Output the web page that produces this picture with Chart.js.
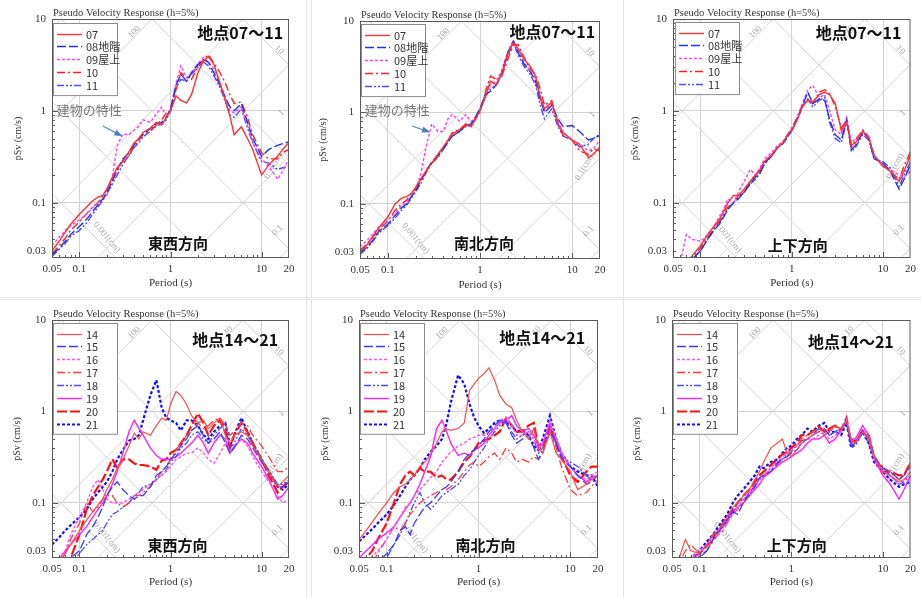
<!DOCTYPE html>
<html><head><meta charset="utf-8">
<script src="https://cdn.jsdelivr.net/npm/chart.js@4.4.1/dist/chart.umd.min.js"></script>
<style>
body{margin:0;background:#fff;width:921px;height:597px;position:relative;overflow:hidden}
canvas{position:absolute}
.bd{position:absolute;background:#e3e3e3;z-index:2}
</style></head><body>
<canvas id="c1" width="305" height="296" style="left:0px;top:0px"></canvas>
<canvas id="c2" width="299" height="296" style="left:312px;top:0px"></canvas>
<canvas id="c3" width="297" height="296" style="left:624px;top:0px"></canvas>
<canvas id="c4" width="305" height="297" style="left:0px;top:300px"></canvas>
<canvas id="c5" width="299" height="297" style="left:312px;top:300px"></canvas>
<canvas id="c6" width="297" height="297" style="left:624px;top:300px"></canvas>
<div class="bd" style="left:306px;top:0;width:1px;height:297px"></div>
<div class="bd" style="left:311px;top:0;width:1px;height:297px"></div>
<div class="bd" style="left:623px;top:0;width:1px;height:297px"></div>
<div class="bd" style="left:0;top:297px;width:921px;height:1px"></div>
<div class="bd" style="left:0;top:299px;width:921px;height:1px"></div>
<div class="bd" style="left:306px;top:299px;width:1px;height:298px"></div>
<div class="bd" style="left:311px;top:299px;width:1px;height:298px"></div>
<div class="bd" style="left:623px;top:299px;width:1px;height:298px"></div>
<script>
// ---- data ----
const periods = [0.05,0.06,0.07,0.08,0.1, 0.12,0.14,0.16,0.18,0.2, 0.23,0.26,0.3,0.35,0.4, 0.45,0.5,0.6,0.7,0.8, 0.9,1.0,1.15,1.3,1.5, 1.7,2.0,2.3,2.6,3.0, 3.5,4.0,4.5,5.0,6.0, 7.0,8.0,10,12,15, 17,20];
const xTickValues = [0.05,0.1,1,10,20];
const xTickLabels = ['0.05','0.1','1','10','20'];
const yTickValues = [0.03,0.1,1,10];
const yTickLabels = ['0.03','0.1','1','10'];
const labelsTop = ['07','08地階','09屋上','10','11'];
const labelsBottom = ['14','15','16','17','18','19','20','21'];

// Panel 1: 東西方向 地点07～11
const P1_07 = [0.03,0.038,0.048,0.058,0.075, 0.09,0.105,0.115,0.12,0.14, 0.19,0.24,0.28,0.36,0.45, 0.5,0.58,0.65,0.75,0.7, 0.85,1.0,1.45,1.3,1.22, 1.5,2.6,3.5,3.9,3.2, 2.0,1.3,0.87,0.55,0.67, 0.5,0.38,0.2,0.26,0.32, 0.38,0.45];
const P1_08 = [0.027,0.032,0.038,0.045,0.055, 0.066,0.08,0.095,0.11,0.13, 0.17,0.23,0.3,0.35,0.43, 0.5,0.56,0.64,0.72,0.75, 0.85,1.05,1.9,2.5,2.1, 2.6,3.2,3.6,3.4,2.6, 1.9,1.4,1.1,1.0,1.2, 0.75,0.5,0.32,0.38,0.42, 0.44,0.46];
const P1_09 = [0.034,0.042,0.05,0.056,0.065, 0.075,0.088,0.1,0.11,0.12, 0.19,0.42,0.56,0.55,0.62, 0.68,0.8,0.75,0.92,1.1, 0.85,1.05,2.0,3.1,2.3, 2.5,3.3,3.8,3.4,2.9, 2.0,1.4,1.0,0.95,1.1, 0.7,0.45,0.3,0.25,0.18, 0.22,0.3];
const P1_10 = [0.028,0.034,0.041,0.05,0.062, 0.076,0.09,0.1,0.12,0.14, 0.18,0.22,0.29,0.32,0.42, 0.48,0.55,0.6,0.7,0.8, 0.95,1.0,1.7,2.6,2.3, 2.2,3.0,3.6,4.1,3.3, 2.6,2.0,1.5,1.2,1.25, 0.85,0.55,0.35,0.3,0.3, 0.35,0.38];
const P1_11 = [0.026,0.031,0.036,0.043,0.05, 0.06,0.075,0.09,0.105,0.125, 0.16,0.2,0.26,0.33,0.4, 0.45,0.52,0.6,0.68,0.72, 0.8,1.0,1.8,2.2,2.1, 2.5,3.0,3.4,3.1,2.4, 1.8,1.25,0.9,0.85,1.05, 0.65,0.45,0.28,0.27,0.23, 0.24,0.25];

// Panel 2: 南北方向 地点07～11
const P2_07 = [0.03,0.036,0.045,0.055,0.072, 0.1,0.115,0.12,0.13,0.15, 0.19,0.23,0.28,0.35,0.42, 0.5,0.58,0.65,0.75,0.7, 0.85,1.05,1.5,2.2,2.0, 2.6,4.3,5.8,5.0,3.8, 3.2,2.5,1.5,1.1,1.3, 0.75,0.6,0.5,0.45,0.32, 0.35,0.42];
const P2_08 = [0.029,0.034,0.041,0.05,0.06, 0.075,0.09,0.1,0.12,0.14, 0.18,0.23,0.29,0.34,0.4, 0.48,0.55,0.62,0.72,0.75, 0.9,1.1,1.6,1.7,2.0, 2.6,4.5,6.0,4.5,3.4, 2.8,2.2,1.4,1.0,1.2, 0.85,0.7,0.72,0.62,0.5, 0.52,0.56];
const P2_09 = [0.034,0.04,0.048,0.056,0.066, 0.08,0.095,0.105,0.12,0.14, 0.22,0.42,0.75,0.62,0.62, 0.85,0.95,0.8,0.95,0.8, 0.9,1.1,1.6,2.0,2.2, 2.8,4.6,6.2,4.8,3.5, 2.9,2.3,1.4,1.05,1.25, 0.8,0.6,0.5,0.45,0.38, 0.4,0.5];
const P2_10 = [0.031,0.037,0.044,0.052,0.065, 0.085,0.1,0.11,0.13,0.15, 0.19,0.22,0.28,0.32,0.4, 0.5,0.6,0.65,0.72,0.7, 0.9,1.0,1.7,2.5,2.3, 2.4,3.8,5.5,5.5,4.0, 3.0,2.6,1.8,1.2,1.35, 0.75,0.55,0.5,0.38,0.35, 0.4,0.38];
const P2_11 = [0.028,0.033,0.04,0.048,0.058, 0.07,0.085,0.097,0.115,0.135, 0.17,0.22,0.28,0.33,0.4, 0.47,0.55,0.62,0.7,0.72, 0.85,1.05,1.5,1.8,2.0, 2.5,4.2,5.8,4.2,3.2, 2.6,2.0,1.2,0.85,1.1, 0.7,0.55,0.5,0.42,0.45, 0.52,0.58];

// Panel 3: 上下方向 地点07～11
const P3_07 = [0.02,0.02,0.022,0.026,0.034, 0.045,0.055,0.065,0.08,0.1, 0.12,0.12,0.14,0.17,0.2, 0.23,0.28,0.33,0.4,0.45, 0.55,0.62,0.8,1.1,1.3, 1.25,1.5,1.6,1.5,1.2, 0.6,0.75,0.42,0.45,0.6, 0.5,0.33,0.25,0.22,0.17, 0.22,0.33];
const P3_08 = [0.02,0.02,0.021,0.024,0.03, 0.04,0.05,0.058,0.07,0.085, 0.1,0.11,0.13,0.16,0.19, 0.21,0.27,0.32,0.4,0.44, 0.52,0.62,0.82,1.1,1.6, 1.2,1.35,1.3,0.8,0.55, 0.48,0.8,0.38,0.42,0.58, 0.5,0.3,0.27,0.22,0.14, 0.18,0.26];
const P3_09 = [0.02,0.022,0.045,0.04,0.038, 0.045,0.055,0.07,0.085,0.11, 0.1,0.13,0.17,0.23,0.2, 0.24,0.3,0.35,0.42,0.46, 0.55,0.65,0.85,1.2,1.7, 1.9,1.4,1.5,1.0,0.62, 0.55,0.85,0.45,0.5,0.6, 0.52,0.32,0.26,0.23,0.2, 0.19,0.22];
const P3_10 = [0.02,0.02,0.021,0.025,0.032, 0.042,0.052,0.062,0.075,0.09, 0.1,0.12,0.13,0.17,0.2, 0.22,0.27,0.33,0.4,0.45, 0.55,0.65,0.85,1.15,1.3, 1.2,1.6,1.7,1.55,1.1, 0.65,0.8,0.4,0.48,0.62, 0.52,0.32,0.25,0.22,0.18, 0.25,0.36];
const P3_11 = [0.02,0.02,0.02,0.023,0.03, 0.04,0.05,0.06,0.072,0.085, 0.1,0.115,0.13,0.16,0.18, 0.21,0.26,0.32,0.4,0.44, 0.52,0.6,0.8,1.1,1.35, 1.1,1.3,1.4,0.75,0.5, 0.45,0.78,0.36,0.4,0.55, 0.48,0.3,0.28,0.24,0.15, 0.2,0.28];

// Panel 4: 東西方向 地点14～21
const P4_14 = [0.02,0.023,0.028,0.035,0.05, 0.065,0.08,0.095,0.11,0.14, 0.18,0.24,0.3,0.42,0.58, 0.5,0.6,0.55,0.7,0.85, 0.8,1.2,1.65,1.5,1.2, 0.9,0.75,0.8,0.65,0.75, 0.85,0.55,0.45,0.55,0.6, 0.55,0.42,0.3,0.22,0.15, 0.17,0.2];
const P4_15 = [0.02,0.02,0.022,0.025,0.03, 0.045,0.055,0.07,0.09,0.12, 0.15,0.17,0.14,0.12,0.11, 0.12,0.12,0.15,0.2,0.22, 0.25,0.3,0.35,0.42,0.5, 0.62,0.7,0.55,0.45,0.5, 0.6,0.45,0.35,0.4,0.55, 0.5,0.4,0.28,0.22,0.15, 0.15,0.18];
const P4_16 = [0.02,0.025,0.03,0.045,0.07, 0.1,0.15,0.18,0.14,0.11, 0.1,0.1,0.1,0.11,0.12, 0.13,0.14,0.16,0.18,0.2, 0.22,0.25,0.3,0.32,0.35, 0.35,0.4,0.35,0.3,0.27, 0.35,0.45,0.35,0.4,0.5, 0.42,0.32,0.22,0.17,0.12, 0.1,0.11];
const P4_17 = [0.02,0.022,0.028,0.04,0.06, 0.1,0.08,0.09,0.11,0.12, 0.12,0.1,0.09,0.1,0.12, 0.12,0.13,0.15,0.18,0.22, 0.25,0.3,0.38,0.45,0.55, 0.6,0.75,0.65,0.7,0.8, 0.85,0.7,0.55,0.6,0.75, 0.7,0.55,0.42,0.32,0.22, 0.22,0.25];
const P4_18 = [0.02,0.02,0.02,0.022,0.028, 0.035,0.04,0.045,0.05,0.06, 0.075,0.08,0.09,0.1,0.12, 0.13,0.15,0.16,0.18,0.2, 0.23,0.28,0.32,0.4,0.45, 0.55,0.6,0.5,0.45,0.55, 0.65,0.75,0.4,0.45,0.65, 0.55,0.45,0.3,0.23,0.16, 0.16,0.18];
const P4_19 = [0.02,0.024,0.03,0.035,0.045, 0.055,0.07,0.085,0.1,0.12, 0.16,0.22,0.35,0.6,0.8, 0.65,0.55,0.4,0.33,0.3, 0.3,0.3,0.32,0.35,0.4, 0.45,0.55,0.45,0.35,0.45, 0.55,0.5,0.35,0.42,0.5, 0.45,0.35,0.25,0.18,0.11, 0.12,0.15];
const P4_20 = [0.02,0.02,0.021,0.025,0.045, 0.085,0.12,0.15,0.18,0.22, 0.3,0.24,0.3,0.3,0.27, 0.26,0.26,0.25,0.23,0.29, 0.3,0.35,0.38,0.45,0.55, 0.7,0.95,0.75,0.55,0.7, 0.8,0.6,0.4,0.55,0.75, 0.6,0.45,0.3,0.2,0.13, 0.15,0.17];
const P4_21 = [0.035,0.042,0.05,0.057,0.07, 0.085,0.11,0.13,0.15,0.17, 0.22,0.3,0.38,0.48,0.5, 0.55,0.8,1.5,2.2,1.1, 0.85,0.8,0.75,0.62,0.8, 0.8,0.7,0.55,0.5,0.6, 0.7,0.75,0.42,0.55,0.85, 0.6,0.45,0.3,0.22,0.15, 0.14,0.16];

// Panel 5: 南北方向 地点14～21
const P5_14 = [0.04,0.05,0.062,0.075,0.1, 0.13,0.15,0.16,0.18,0.2, 0.25,0.28,0.33,0.45,0.6, 0.65,0.62,0.65,0.75,1.7, 2.0,2.3,2.6,3.0,2.2, 1.5,1.2,1.1,0.8,0.6, 0.5,0.65,0.4,0.35,0.6, 0.35,0.3,0.22,0.14,0.16, 0.18,0.2];
const P5_15 = [0.02,0.02,0.02,0.022,0.028, 0.035,0.05,0.055,0.045,0.06, 0.075,0.09,0.1,0.12,0.14, 0.15,0.17,0.22,0.3,0.35, 0.38,0.42,0.5,0.6,0.7, 0.8,0.75,0.55,0.45,0.5, 0.55,0.4,0.3,0.35,0.6, 0.45,0.3,0.25,0.2,0.16, 0.17,0.2];
const P5_16 = [0.02,0.022,0.026,0.03,0.04, 0.055,0.07,0.09,0.1,0.12, 0.14,0.16,0.19,0.22,0.28, 0.32,0.36,0.42,0.45,0.5, 0.52,0.55,0.55,0.6,0.65, 0.8,0.85,0.7,0.55,0.55, 0.6,0.5,0.38,0.45,0.8, 0.5,0.35,0.25,0.2,0.18, 0.2,0.22];
const P5_17 = [0.02,0.02,0.022,0.028,0.04, 0.055,0.05,0.06,0.075,0.085, 0.1,0.11,0.12,0.13,0.14, 0.14,0.15,0.18,0.22,0.26, 0.28,0.25,0.28,0.32,0.35, 0.3,0.4,0.35,0.28,0.3, 0.28,0.32,0.3,0.38,0.6, 0.4,0.25,0.14,0.12,0.13, 0.15,0.18];
const P5_18 = [0.02,0.02,0.02,0.02,0.025, 0.035,0.045,0.06,0.08,0.1, 0.13,0.1,0.085,0.1,0.12, 0.13,0.14,0.16,0.2,0.23, 0.28,0.33,0.4,0.5,0.6, 0.7,0.8,0.6,0.5,0.55, 0.6,0.5,0.35,0.4,0.65, 0.45,0.32,0.28,0.25,0.2, 0.18,0.16];
const P5_19 = [0.025,0.03,0.035,0.04,0.047, 0.055,0.07,0.085,0.1,0.12, 0.16,0.22,0.32,0.65,0.8, 0.6,0.45,0.33,0.35,0.33, 0.38,0.4,0.45,0.55,0.65, 0.75,0.8,0.9,0.7,0.6, 0.65,0.55,0.42,0.45,0.75, 0.5,0.35,0.25,0.2,0.17, 0.19,0.2];
const P5_20 = [0.022,0.025,0.03,0.04,0.06, 0.1,0.16,0.2,0.22,0.2, 0.24,0.22,0.22,0.19,0.2, 0.18,0.18,0.22,0.28,0.32, 0.38,0.45,0.48,0.5,0.55, 0.6,0.85,0.7,0.6,0.6, 0.7,0.75,0.4,0.4,0.7, 0.45,0.32,0.2,0.17,0.22, 0.25,0.25];
const P5_21 = [0.038,0.045,0.052,0.06,0.075, 0.095,0.12,0.15,0.18,0.2, 0.24,0.3,0.36,0.42,0.5, 0.75,1.26,2.5,2.0,1.2, 0.85,0.7,0.58,0.65,0.75, 0.8,0.75,0.7,0.6,0.62, 0.55,0.42,0.38,0.5,0.9, 0.5,0.35,0.25,0.22,0.2, 0.2,0.15];

// Panel 6: 上下方向 地点14～21
const P6_14 = [0.02,0.025,0.04,0.03,0.028, 0.035,0.045,0.05,0.06,0.07, 0.09,0.1,0.12,0.14,0.18, 0.22,0.28,0.4,0.45,0.5, 0.35,0.32,0.38,0.45,0.5, 0.55,0.6,0.65,0.6,0.7, 0.65,0.78,0.5,0.45,0.6, 0.5,0.32,0.22,0.2,0.17, 0.18,0.22];
const P6_15 = [0.02,0.02,0.02,0.022,0.026, 0.03,0.04,0.048,0.055,0.065, 0.08,0.075,0.1,0.13,0.15, 0.19,0.2,0.22,0.27,0.3, 0.32,0.35,0.38,0.45,0.5, 0.55,0.6,0.65,0.55,0.6, 0.65,0.8,0.42,0.45,0.62, 0.5,0.32,0.24,0.22,0.18, 0.2,0.25];
const P6_16 = [0.02,0.02,0.022,0.025,0.03, 0.035,0.04,0.045,0.055,0.06, 0.075,0.09,0.11,0.13,0.16, 0.18,0.2,0.24,0.28,0.32, 0.35,0.38,0.42,0.45,0.5, 0.5,0.55,0.6,0.5,0.55, 0.6,0.82,0.45,0.48,0.65, 0.5,0.3,0.22,0.2,0.16, 0.18,0.2];
const P6_17 = [0.02,0.022,0.03,0.035,0.028, 0.03,0.038,0.045,0.05,0.06, 0.075,0.085,0.1,0.12,0.15, 0.18,0.2,0.23,0.26,0.3, 0.33,0.36,0.42,0.5,0.55, 0.6,0.65,0.55,0.6,0.68, 0.65,0.8,0.48,0.5,0.6, 0.55,0.33,0.24,0.22,0.18, 0.2,0.28];
const P6_18 = [0.02,0.02,0.02,0.02,0.025, 0.03,0.04,0.05,0.058,0.068, 0.08,0.1,0.11,0.12,0.16, 0.18,0.2,0.24,0.28,0.3, 0.34,0.38,0.42,0.48,0.5, 0.55,0.65,0.62,0.55,0.6, 0.6,0.8,0.42,0.42,0.58, 0.45,0.3,0.25,0.2,0.16, 0.17,0.2];
const P6_19 = [0.02,0.02,0.022,0.024,0.028, 0.035,0.045,0.05,0.055,0.065, 0.08,0.09,0.1,0.12,0.14, 0.16,0.19,0.22,0.25,0.28, 0.3,0.32,0.35,0.38,0.45, 0.5,0.5,0.55,0.45,0.5, 0.62,0.78,0.5,0.5,0.7, 0.55,0.3,0.2,0.16,0.11, 0.14,0.2];
const P6_20 = [0.02,0.02,0.022,0.025,0.028, 0.034,0.042,0.05,0.06,0.07, 0.085,0.1,0.12,0.14,0.17, 0.2,0.22,0.26,0.3,0.34, 0.36,0.4,0.45,0.55,0.55, 0.6,0.68,0.6,0.65,0.7, 0.62,0.85,0.45,0.48,0.62, 0.55,0.32,0.22,0.22,0.2, 0.2,0.28];
const P6_21 = [0.02,0.02,0.022,0.025,0.03, 0.038,0.045,0.055,0.065,0.075, 0.1,0.12,0.14,0.17,0.2, 0.25,0.24,0.28,0.3,0.35, 0.4,0.42,0.5,0.55,0.65, 0.6,0.7,0.75,0.6,0.6, 0.55,0.75,0.4,0.45,0.6, 0.45,0.28,0.22,0.18,0.15, 0.16,0.17];

// tripartite grid values
const accLines = [0.001,0.01,0.1,1,10,100,1000,10000];
const dispLines = [0.00001,0.0001,0.001,0.01,0.1,1,10,100];
const diagLabels = [
  {t:'100', T:0.4, S:7.2, rot:-45},
  {t:'10', T:4.3, S:7.6, rot:-45},
  {t:'10', T:15.5, S:4.6, rot:45},
  {t:'1', T:16.5, S:0.95, rot:-45},
  {t:'0.1(cm)', T:13.5, S:0.25, rot:-60},
  {t:'0.1', T:15, S:0.05, rot:-45},
  {t:'0.001(cm)', T:0.2, S:0.042, rot:50}
];

// ---- styles ----
const stylesTop = [
  {c:'#ff3030', d:[], w:1.4},
  {c:'#2233e6', d:[9,3], w:1.4},
  {c:'#ff40ff', d:[3,2], w:1.4},
  {c:'#ff2020', d:[8,3,2,3], w:1.4},
  {c:'#4a4aff', d:[7,2,2,2,2,2], w:1.4}
];
const stylesBottom = [
  {c:'#ff4a4a', d:[], w:1.2},
  {c:'#3a3aff', d:[9,3], w:1.3},
  {c:'#ff50ff', d:[3,2], w:1.4},
  {c:'#ff3a3a', d:[8,3,2,3], w:1.3},
  {c:'#4a4aff', d:[7,2,2,2,2,2], w:1.3},
  {c:'#ff20ff', d:[], w:1.4},
  {c:'#ff1010', d:[10,3], w:2.2},
  {c:'#1010ff', d:[3,2], w:2.2}
];

const TWO_PI = 2*Math.PI;
const CJK = '"Noto Sans CJK JP","Noto Sans",sans-serif';
const SERIF = '"Liberation Serif","DejaVu Serif",serif';

function makePlugin(cfg){
  return {
    id:'tri'+cfg.id,
    beforeDatasetsDraw(chart){
      const {ctx, chartArea:a, scales:{x,y}} = chart;
      ctx.save();
      ctx.beginPath(); ctx.rect(a.left,a.top,a.right-a.left,a.bottom-a.top); ctx.clip();
      ctx.strokeStyle='#d6d6d6'; ctx.lineWidth=1;
      const t0=0.01, t1=100;
      accLines.forEach(A=>{
        ctx.beginPath();
        ctx.moveTo(x.getPixelForValue(t0), y.getPixelForValue(A*t0/TWO_PI));
        ctx.lineTo(x.getPixelForValue(t1), y.getPixelForValue(A*t1/TWO_PI));
        ctx.stroke();
      });
      dispLines.forEach(D=>{
        ctx.beginPath();
        ctx.moveTo(x.getPixelForValue(t0), y.getPixelForValue(TWO_PI*D/t0));
        ctx.lineTo(x.getPixelForValue(t1), y.getPixelForValue(TWO_PI*D/t1));
        ctx.stroke();
      });
      ctx.fillStyle='#a9a9a9'; ctx.font='9px '+SERIF; ctx.textAlign='center'; ctx.textBaseline='middle';
      diagLabels.forEach(l=>{
        ctx.save();
        ctx.translate(x.getPixelForValue(l.T), y.getPixelForValue(l.S));
        ctx.rotate(l.rot*Math.PI/180);
        ctx.fillText(l.t,0,0);
        ctx.restore();
      });
      ctx.restore();
    },
    afterDraw(chart){
      const {ctx, chartArea:a, scales:{x,y}} = chart;
      const W=a.right-a.left, H=a.bottom-a.top;
      ctx.save();
      // frame
      ctx.strokeStyle='#5a5a5a'; ctx.lineWidth=1;
      ctx.strokeRect(a.left+0.5, a.top+0.5, W-1, H-1);
      // minor ticks
      ctx.beginPath();
      for(let n=-3;n<=2;n++) for(let k=1;k<=9;k++){
        const v=k*Math.pow(10,n), len=k===1?6:3;
        if(v>y.min*1.001 && v<y.max*0.999){const py=Math.round(y.getPixelForValue(v))+0.5; ctx.moveTo(a.left,py); ctx.lineTo(a.left+len,py);}
        if(v>x.min*1.001 && v<x.max*0.999){const px=Math.round(x.getPixelForValue(v))+0.5; ctx.moveTo(px,a.bottom); ctx.lineTo(px,a.bottom-len);}
      }
      ctx.stroke();
      // chart title
      ctx.fillStyle='#333'; ctx.font='10.5px '+SERIF; ctx.textAlign='left'; ctx.textBaseline='middle';
      ctx.fillText('Pseudo Velocity Response (h=5%)', a.left+1, a.top-6);
      // legend
      const ds=chart.data.datasets, bx=a.left+cfg.lg[0], by=a.top+cfg.lg[1];
      const rowH=12.9, first=10.5, bw=64, bh=first+(ds.length-1)*rowH+10;
      ctx.fillStyle='#fff'; ctx.fillRect(bx,by,bw,bh);
      ctx.strokeStyle='#8c8c8c'; ctx.lineWidth=1; ctx.strokeRect(bx+0.5,by+0.5,bw,bh);
      ds.forEach((d,i)=>{
        const cy=Math.round(by+first+i*rowH)+0.5;
        ctx.strokeStyle=d.borderColor; ctx.lineWidth=d.borderWidth; ctx.setLineDash(d.borderDash);
        ctx.beginPath(); ctx.moveTo(bx+4,cy); ctx.lineTo(bx+29,cy); ctx.stroke();
        ctx.setLineDash([]);
        ctx.fillStyle='#333'; ctx.font='11px '+CJK; ctx.textAlign='left'; ctx.textBaseline='middle';
        ctx.fillText(d.label,bx+33,cy+0.5);
      });
      // site label
      ctx.fillStyle='#111'; ctx.font='bold 16px '+CJK; ctx.textAlign='right'; ctx.textBaseline='middle';
      ctx.fillText(cfg.site, a.left+cfg.siteP[0]*W, a.top+cfg.siteP[1]*H);
      ctx.font='bold 15px '+CJK; ctx.textAlign='center';
      ctx.fillText(cfg.dir, a.left+cfg.dirP[0]*W, a.top+cfg.dirP[1]*H);
      // note
      if(cfg.note){
        const n=cfg.note;
        ctx.fillStyle='#7a7a7a'; ctx.font='13px '+CJK; ctx.textAlign='left';
        ctx.fillText('建物の特性', a.left+n.t[0]*W, a.top+n.t[1]*H);
        const x0=a.left+n.a0[0]*W, y0=a.top+n.a0[1]*H, x1=a.left+n.a1[0]*W, y1=a.top+n.a1[1]*H;
        ctx.strokeStyle='#5b8bc6'; ctx.fillStyle='#4a7fc0'; ctx.lineWidth=1.2;
        ctx.beginPath(); ctx.moveTo(x0,y0); ctx.lineTo(x1,y1); ctx.stroke();
        const ang=Math.atan2(y1-y0,x1-x0), hl=7;
        ctx.beginPath(); ctx.moveTo(x1+2*Math.cos(ang),y1+2*Math.sin(ang));
        ctx.lineTo(x1-hl*Math.cos(ang-0.45), y1-hl*Math.sin(ang-0.45));
        ctx.lineTo(x1-hl*Math.cos(ang+0.45), y1-hl*Math.sin(ang+0.45));
        ctx.closePath(); ctx.fill();
      }
      ctx.restore();
    }
  };
}

function toXY(vals){ return vals.map((v,i)=>({x:periods[i], y:v})); }

function makeChart(cfg){
  const labels = cfg.top ? labelsTop : labelsBottom;
  const styles = cfg.top ? stylesTop : stylesBottom;
  const datasets = cfg.series.map((vals,i)=>({
    label: labels[i], data: toXY(vals),
    borderColor: styles[i].c, borderWidth: styles[i].w, borderDash: styles[i].d,
    pointRadius:0, fill:false, tension:0
  }));
  const gridColor = vals => (c => (c.tick && vals.includes(c.tick.value)) ? '#d2d2d2' : 'rgba(0,0,0,0)');
  new Chart(document.getElementById(cfg.id), {
    type:'line',
    data:{datasets},
    plugins:[makePlugin(cfg)],
    options:{
      responsive:false, animation:false, devicePixelRatio:1,
      layout:{padding:{left:0, top:cfg.pad[0], right:cfg.pad[1], bottom:0}},
      plugins:{legend:{display:false}, tooltip:{enabled:false}, title:{display:false}},
      scales:{
        x:{type:'logarithmic', min:0.05, max:20, position:'bottom',
          afterBuildTicks:s=>{ s.ticks = xTickValues.map(v=>({value:v})); },
          afterFit:s=>{ s.height = cfg.xh; },
          ticks:{autoSkip:false, maxRotation:0, padding:5, color:'#333', font:{family:SERIF, size:11},
            callback:v=>{const i=xTickValues.indexOf(v); return i>=0?xTickLabels[i]:'';}},
          grid:{color:gridColor([0.1,1,10]), drawTicks:false, lineWidth:1},
          border:{display:false},
          title:{display:true, text:'Period (s)', color:'#333', font:{family:SERIF, size:11}, padding:{top:0,bottom:cfg.xtp}}
        },
        y:{type:'logarithmic', min:0.025, max:10, position:'left',
          afterBuildTicks:s=>{ s.ticks = yTickValues.map(v=>({value:v})); },
          afterFit:s=>{ s.width = cfg.yw; },
          ticks:{autoSkip:false, padding:6, color:'#333', font:{family:SERIF, size:11},
            callback:v=>{const i=yTickValues.indexOf(v); return i>=0?yTickLabels[i]:'';}},
          grid:{color:gridColor([0.1,1,10]), drawTicks:false, lineWidth:1},
          border:{display:false},
          title:{display:true, text:'pSv (cm/s)', color:'#333', font:{family:SERIF, size:10}, padding:{top:cfg.ytp,bottom:0}}
        }
      }
    }
  });
}

const noteP = {t:[0.02,0.38], a0:[0.215,0.448], a1:[0.29,0.487]};
makeChart({id:'c1', top:true, series:[P1_07,P1_08,P1_09,P1_10,P1_11], pad:[19,16], yw:52, xh:38, xtp:6, ytp:12,
  lg:[1,4], site:'地点07～11', siteP:[0.975,0.06], dir:'東西方向', dirP:[0.532,0.937], note:noteP});
makeChart({id:'c2', top:true, series:[P2_07,P2_08,P2_09,P2_10,P2_11], pad:[21,11], yw:48, xh:37, xtp:4, ytp:5,
  lg:[1,3], site:'地点07～11', siteP:[0.98,0.046], dir:'南北方向', dirP:[0.517,0.933], note:{t:[0.02,0.374], a0:[0.217,0.441], a1:[0.285,0.465]}});
makeChart({id:'c3', top:true, series:[P3_07,P3_08,P3_09,P3_10,P3_11], pad:[19,9], yw:49, xh:38, xtp:6, ytp:5,
  lg:[2,3], site:'地点07～11', siteP:[0.962,0.059], dir:'上下方向', dirP:[0.525,0.946], note:null});
makeChart({id:'c4', top:false, series:[P4_14,P4_15,P4_16,P4_17,P4_18,P4_19,P4_20,P4_21], pad:[20,16], yw:52, xh:39, xtp:8, ytp:11,
  lg:[1,3], site:'地点14～21', siteP:[0.954,0.084], dir:'東西方向', dirP:[0.53,0.945], note:null});
makeChart({id:'c5', top:false, series:[P5_14,P5_15,P5_16,P5_17,P5_18,P5_19,P5_20,P5_21], pad:[20,13], yw:47, xh:39, xtp:8, ytp:7,
  lg:[1,3], site:'地点14～21', siteP:[0.946,0.076], dir:'南北方向', dirP:[0.529,0.945], note:null});
makeChart({id:'c6', top:false, series:[P6_14,P6_15,P6_16,P6_17,P6_18,P6_19,P6_20,P6_21], pad:[20,9], yw:48, xh:39, xtp:8, ytp:7,
  lg:[1,3], site:'地点14～21', siteP:[0.93,0.092], dir:'上下方向', dirP:[0.523,0.945], note:null});
</script>
</body></html>
